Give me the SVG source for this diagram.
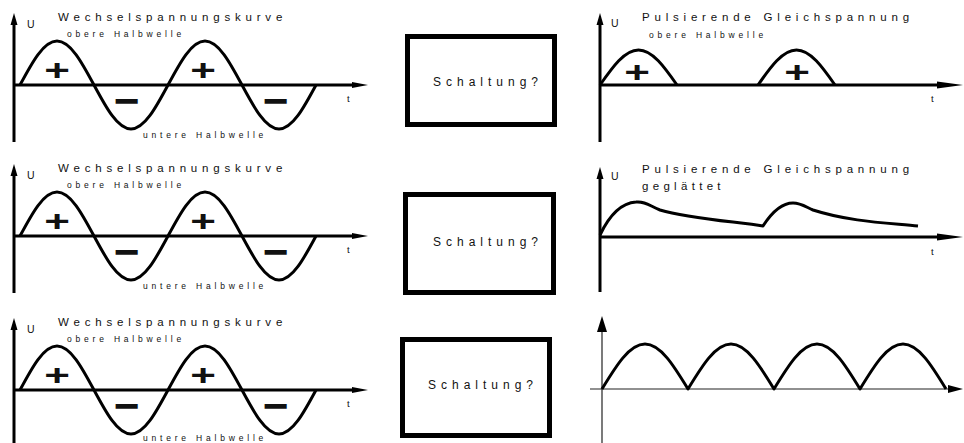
<svg xmlns="http://www.w3.org/2000/svg" xmlns:xlink="http://www.w3.org/1999/xlink" width="964" height="443" viewBox="0 0 964 443">
<style>
text{font-family:"Liberation Sans",Arial,sans-serif;fill:#111}
.title{font-size:11.5px;letter-spacing:4.8px}
.sub{font-size:8.5px;letter-spacing:3.8px}
.u{font-size:10.5px}
.t{font-size:9.5px}
.box-label{font-size:12px;letter-spacing:5px}
.sign{font-size:44px;font-weight:bold;text-anchor:middle}
.axis{stroke:#000;stroke-width:3;fill:none}
.thin{stroke:#222;stroke-width:1.2;fill:none}
.curve{stroke:#000;stroke-width:3;fill:none;stroke-linejoin:round}
.box{fill:#fff;stroke:#000;stroke-width:5}
.head{fill:#000}
</style>
<defs>
<path id="sine" class="curve" d="M20,85 c12.07,-22.54 23.61,-44 37,-44 s24.93,21.46 37,44 s23.61,44 37,44 s24.93,-21.46 37,-44 s23.61,-44 37,-44 s24.93,21.46 37,44 s23.61,44 37,44 s24.93,-21.46 37,-44"/>
<g id="leftaxes">
<line class="axis" x1="14" y1="22" x2="14" y2="142"/>
<polygon class="head" points="14,13 10.5,25 17.5,25"/>
<line class="axis" x1="14" y1="85" x2="353" y2="85"/>
<polygon class="head" points="352,82 368,85 352,88"/>
</g>
</defs>

<g id="input-1">
<use xlink:href="#leftaxes"/>
<use xlink:href="#sine"/>
<text class="title" x="58" y="21">Wechselspannungskurve</text>
<text class="u" x="27" y="28">U</text>
<text class="sub" x="67" y="37">obere Halbwelle</text>
<text class="sub" x="143" y="138">untere Halbwelle</text>
<text class="t" x="347" y="102">t</text>
<text class="sign" transform="translate(57,70) scale(1,0.65)" y="15.4">+</text>
<text class="sign" transform="translate(203,70) scale(1,0.65)" y="15.4">+</text>
<text class="sign" x="126.5" y="115.5">−</text>
<text class="sign" x="275.5" y="115.5">−</text>
</g>

<g id="input-2" transform="translate(0,151)">
<use xlink:href="#leftaxes"/>
<use xlink:href="#sine"/>
<text class="title" x="58" y="21">Wechselspannungskurve</text>
<text class="u" x="27" y="28">U</text>
<text class="sub" x="67" y="37">obere Halbwelle</text>
<text class="sub" x="143" y="138">untere Halbwelle</text>
<text class="t" x="347" y="102">t</text>
<text class="sign" transform="translate(57,70) scale(1,0.65)" y="15.4">+</text>
<text class="sign" transform="translate(203,70) scale(1,0.65)" y="15.4">+</text>
<text class="sign" x="126.5" y="115.5">−</text>
<text class="sign" x="275.5" y="115.5">−</text>
</g>

<g id="input-3" transform="translate(0,305)">
<use xlink:href="#leftaxes"/>
<use xlink:href="#sine"/>
<text class="title" x="58" y="21">Wechselspannungskurve</text>
<text class="u" x="27" y="28">U</text>
<text class="sub" x="67" y="37">obere Halbwelle</text>
<text class="sub" x="143" y="136">untere Halbwelle</text>
<text class="t" x="347" y="102">t</text>
<text class="sign" transform="translate(57,70) scale(1,0.65)" y="15.4">+</text>
<text class="sign" transform="translate(203,70) scale(1,0.65)" y="15.4">+</text>
<text class="sign" x="126.5" y="115.5">−</text>
<text class="sign" x="275.5" y="115.5">−</text>
</g>

<g id="circuit-1">
<rect class="box" x="407.5" y="36.5" width="147" height="88"/>
<text class="box-label" x="433" y="86">Schaltung?</text>
</g>
<g id="circuit-2">
<rect class="box" x="405.5" y="194.5" width="148" height="98"/>
<text class="box-label" x="433" y="246">Schaltung?</text>
</g>
<g id="circuit-3">
<rect class="box" x="402.5" y="339.5" width="147" height="96"/>
<text class="box-label" x="428" y="389">Schaltung?</text>
</g>

<g id="output-1">
<line class="axis" x1="600" y1="22" x2="600" y2="142"/>
<polygon class="head" points="600,13 596.5,25 603.5,25"/>
<line class="axis" x1="600" y1="85" x2="939" y2="85"/>
<polygon class="head" points="937,81.5 963,85 937,88.5"/>
<path class="curve" d="M600,85 c12.56,-17.93 24.57,-35 38.5,-35 s25.94,17.07 38.5,35"/>
<path class="curve" d="M758,85 c12.56,-17.93 24.57,-35 38.5,-35 s25.94,17.07 38.5,35"/>
<text class="title" x="642" y="21">Pulsierende Gleichspannung</text>
<text class="u" x="611" y="27">U</text>
<text class="sub" x="649" y="38">obere Halbwelle</text>
<text class="t" x="931" y="102">t</text>
<text class="sign" transform="translate(637,72) scale(1,0.65)" y="15.4">+</text>
<text class="sign" transform="translate(797,72) scale(1,0.65)" y="15.4">+</text>
</g>

<g id="output-2">
<line class="axis" x1="600" y1="176" x2="600" y2="292"/>
<polygon class="head" points="600,167 596.5,179 603.5,179"/>
<line class="axis" x1="600" y1="237" x2="939" y2="237"/>
<polygon class="head" points="937,233.5 963,237 937,240.5"/>
<path class="curve" d="M600,235 C609,216 621,203 636,202 C645,201 650,206 660,210 C690,219 740,222 763,226 C772,212 782,203 793,203 C801,203 806,207 813,210 C850,222 890,223 918,226"/>
<text class="title" x="642" y="173">Pulsierende Gleichspannung</text>
<text class="title" x="642" y="190" style="letter-spacing:4.3px">geglättet</text>
<text class="u" x="611" y="180">U</text>
<text class="t" x="931" y="255">t</text>
</g>

<g id="output-3">
<line class="thin" x1="602" y1="328" x2="602" y2="443"/>
<polygon class="head" points="602,316 597,332 607,332"/>
<line class="thin" x1="590" y1="389" x2="950" y2="389"/>
<polygon class="head" points="948,385 963,389 948,393"/>
<path class="curve" d="M602,389 c14.02,-23.05 27.44,-45 43,-45 s28.98,21.95 43,45 c14.02,-23.05 27.44,-45 43,-45 s28.98,21.95 43,45 c14.02,-23.05 27.44,-45 43,-45 s28.98,21.95 43,45 c14.02,-23.05 27.44,-45 43,-45 s28.98,21.95 43,45"/>
</g>
</svg>
